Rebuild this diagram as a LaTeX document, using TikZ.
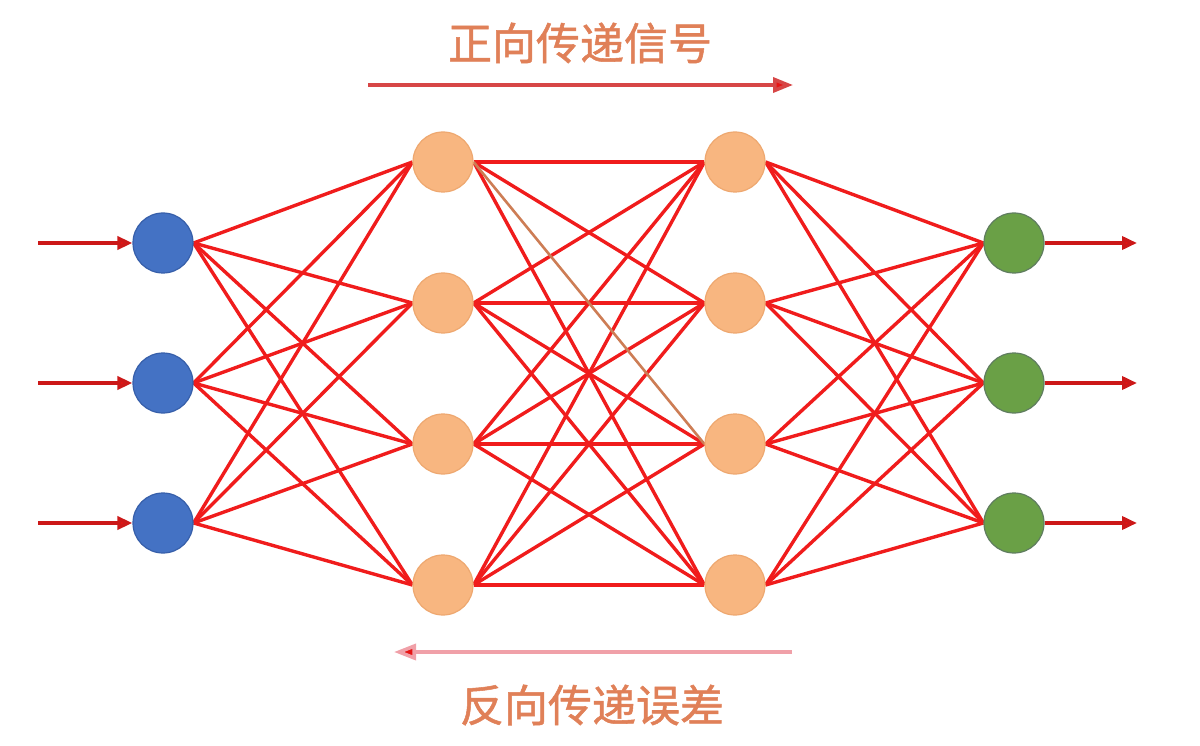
\documentclass[tikz,border=0pt]{standalone}
\usepackage{fontspec}
\newfontfamily\cjk[FakeBold=1.2]{Noto Sans CJK SC}
\usetikzlibrary{arrows.meta,backgrounds}
\definecolor{edgered}{RGB}{240,28,28}
\definecolor{tanline}{RGB}{205,125,85}
\definecolor{blueF}{RGB}{68,114,196}
\definecolor{blueD}{RGB}{55,95,170}
\definecolor{orangeF}{RGB}{248,182,128}
\definecolor{orangeD}{RGB}{238,168,112}
\definecolor{greenF}{RGB}{106,160,70}
\definecolor{greenD}{RGB}{95,125,95}
\definecolor{txtcol}{RGB}{224,128,88}
\definecolor{toparrow}{RGB}{215,70,70}
\definecolor{botarrow}{RGB}{240,160,168}
\definecolor{headred}{RGB}{230,20,20}
\tikzset{
  neuron/.style={circle,minimum size=60pt,inner sep=0pt,line width=1.2pt},
  inN/.style={neuron,fill=blueF,draw=blueD},
  hidN/.style={neuron,fill=orangeF,draw=orangeD},
  outN/.style={neuron,fill=greenF,draw=greenD},
  link/.style={draw=edgered,line width=3.4pt},
  iolink/.style={draw=edgered!85!black,line width=3.6pt,-{Triangle[length=15pt,width=13pt,fill=headred]}},
  label/.style={text=txtcol,font=\cjk\fontsize{44}{52}\selectfont,inner sep=0pt},
}
\begin{document}
\begin{tikzpicture}[x=1pt,y=-1pt]
\useasboundingbox (0,0) rectangle (1200,746);
% nodes
\node[inN] (i1) at (163,243) {};
\node[inN] (i2) at (163,383) {};
\node[inN] (i3) at (163,523) {};
\foreach \k/\y in {1/162,2/303,3/444,4/585}{
  \node[hidN] (a\k) at (443,\y) {};
  \node[hidN] (b\k) at (735,\y) {};
}
\node[outN] (o1) at (1014,243) {};
\node[outN] (o2) at (1014,383) {};
\node[outN] (o3) at (1014,523) {};
% edges
\begin{scope}[on background layer]
\foreach \i in {1,2,3}{\foreach \j in {1,2,3,4}{\draw[link] (i\i.east) -- (a\j.west);}}
\foreach \i in {1,2,3,4}{\foreach \j in {1,2,3,4}{
  \ifnum\i=1 \ifnum\j=3 \else \draw[link] (a\i.east) -- (b\j.west);\fi
  \else \draw[link] (a\i.east) -- (b\j.west);\fi}}
\draw[draw=tanline,line width=2.6pt] (a1.east) -- (b3.west);
\foreach \i in {1,2,3,4}{\foreach \j in {1,2,3}{\draw[link] (b\i.east) -- (o\j.west);}}
\end{scope}
% input / output arrows
\coordinate (s1) at (38,243);
\coordinate (s2) at (38,383);
\coordinate (s3) at (38,523);
\coordinate (t1) at (1137,243);
\coordinate (t2) at (1137,383);
\coordinate (t3) at (1137,523);
\foreach \k in {1,2,3}{
  \draw[iolink] (s\k) -- (i\k.west);
  \draw[iolink] (o\k.east) -- (t\k);
}
% forward / backward arrows
\coordinate (f1) at (368,85);
\coordinate (f2) at (793,85);
\coordinate (r1) at (792,652);
\coordinate (r2) at (394,652);
\draw[draw=toparrow,line width=3.6pt,-{Triangle[length=20pt,width=15pt,fill=headred]}] (f1) -- (f2);
\draw[draw=botarrow,line width=3.6pt,-{Triangle[length=22pt,width=16pt,fill=headred]}] (r1) -- (r2);
\node[label] (fwd) at (580,43) {正向传递信号};
\node[label] (bwd) at (592,705) {反向传递误差};
\end{tikzpicture}
\end{document}
